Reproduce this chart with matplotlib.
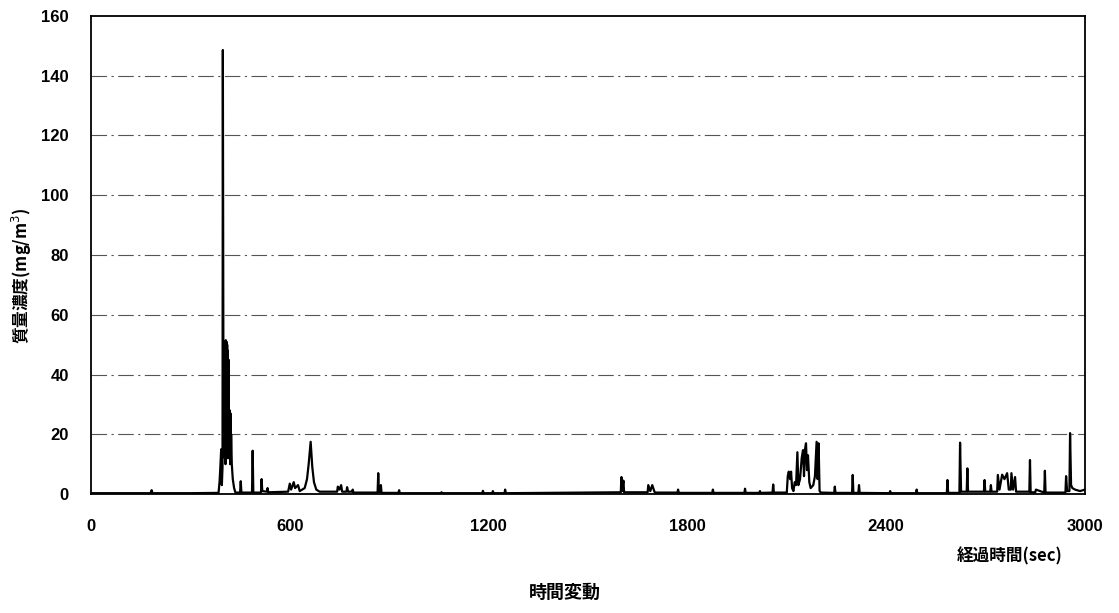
import matplotlib
matplotlib.use("Agg")
import matplotlib.pyplot as plt

plt.rcParams['font.family'] = ['Liberation Sans', 'Noto Sans CJK JP', 'DejaVu Sans']

# Elapsed time (sec) and mass concentration (mg/m3)
times = [0, 100, 180, 183, 186, 300, 385, 388, 390, 393, 395, 397, 398, 400, 402, 404, 405,
         406, 407, 408, 409, 410, 411, 412, 413, 414, 415, 416, 417, 418, 419, 420, 421, 422,
         423, 425, 428, 432, 436, 450, 452, 454, 486, 488, 490, 513, 515, 517,
         531, 533, 535, 595, 600, 604, 612, 616, 625, 630, 645, 652, 657, 663, 668, 673, 680,
         690, 743, 745, 750, 755, 758, 771, 773, 776, 788, 790, 792, 865, 867, 869, 873, 875,
         877, 928, 930, 932, 1056, 1058, 1060, 1181, 1183, 1185, 1211, 1213, 1215, 1248, 1250,
         1252, 1599, 1601, 1603, 1607, 1609, 1680, 1682, 1688, 1694, 1700, 1702, 1770, 1772,
         1774, 1875, 1877, 1879, 1972, 1974, 1976, 2017, 2019, 2021, 2057, 2059, 2061, 2100,
         2103, 2106, 2110, 2113, 2116, 2120, 2124, 2128, 2132, 2135, 2140, 2145, 2149, 2152,
         2155, 2158, 2161, 2164, 2168, 2172, 2180, 2185, 2190, 2193, 2196, 2199, 2203, 2243,
         2245, 2247, 2297, 2299, 2301, 2316, 2318, 2320, 2410, 2412, 2414, 2490, 2492, 2494,
         2583, 2585, 2587, 2621, 2623, 2626, 2643, 2645, 2647, 2695, 2697, 2699, 2714, 2716,
         2718, 2735, 2737, 2742, 2750, 2757, 2765, 2770, 2776, 2778, 2783, 2789, 2792, 2832,
         2834, 2836, 2850, 2852, 2877, 2879, 2881, 2941, 2943, 2946, 2953, 2955, 2958, 2962,
         2970, 2985, 3000]
conc = [0.3, 0.3, 0.3, 1.3, 0.3, 0.3, 0.4, 4, 8, 15, 3, 9, 148.6, 20, 38, 12, 40,
        10, 51.5, 14, 51, 18, 50, 15, 48, 12, 45, 16, 28, 12, 28, 10, 27, 11,
        20, 10, 5, 2, 0.5, 0.5, 4.3, 0.5, 0.5, 14.5, 0.5, 0.5, 5, 1,
        0.8, 2, 0.6, 0.8, 3.5, 1.5, 4, 2, 3, 1, 2, 5, 10, 17.5, 9, 4, 1.5,
        0.8, 0.8, 2.5, 1.5, 3, 0.8, 0.8, 2.3, 0.8, 0.8, 1.5, 0.5, 0.5, 7, 0.7, 0.7, 3,
        0.4, 0.4, 1.3, 0.3, 0.3, 0.6, 0.3, 0.3, 1.1, 0.3, 0.3, 1.0, 0.3, 0.3, 1.5,
        0.3, 0.6, 5.7, 1, 4.5, 0.6, 0.6, 3, 1, 3, 1, 0.5, 0.5, 1.5,
        0.4, 0.4, 1.5, 0.4, 0.4, 1.8, 0.4, 0.4, 1.0, 0.4, 0.5, 3.2, 0.5, 0.5,
        6, 7.5, 5, 7.5, 2, 1, 4, 3, 14, 3, 5, 12, 14.7, 6,
        15, 17, 8, 13, 4, 2, 3, 6, 17.5, 5, 17, 1, 0.5, 0.4,
        2.5, 0.4, 0.4, 6.4, 0.4, 0.4, 3, 0.4, 0.3, 1, 0.3, 0.3, 1.5, 0.3,
        0.3, 4.7, 0.4, 0.4, 17.2, 0.8, 0.8, 8.6, 0.8, 0.8, 4.7, 0.8, 0.8, 3,
        0.8, 0.8, 6.4, 1.5, 6.5, 5, 7, 1.5, 1.5, 7, 1.5, 5.7, 0.8, 0.8,
        11.4, 0.6, 0.6, 1.5, 0.5, 7.8, 0.5, 0.5, 6, 1, 1, 20.4, 3, 2,
        1.5, 1, 1.5]

xticks = [0, 600, 1200, 1800, 2400, 3000]
yticks = [0, 20, 40, 60, 80, 100, 120, 140, 160]

fig = plt.figure(figsize=(11.19, 6.13), dpi=100)
ax = fig.add_axes([0.0813, 0.194, 0.8883, 0.780])

for yv in yticks[1:-1]:
    ax.axhline(yv, color='#555555', lw=0.8, ls=(0, (14, 4, 2, 4)), zorder=1)

ax.plot(times, conc, color='black', lw=1.6, zorder=3)

ax.set_xlim(0, 3000)
ax.set_ylim(0, 160)
ax.set_xticks(xticks)
ax.set_yticks(yticks)
ax.tick_params(axis='both', length=0, labelsize=12)
ax.tick_params(axis='y', pad=16)
ax.tick_params(axis='x', pad=18)
for lab in ax.get_xticklabels() + ax.get_yticklabels():
    lab.set_fontweight('bold')
for sp in ax.spines.values():
    sp.set_linewidth(1.3)
    sp.set_color('black')

fig.text(0.020, 0.55, '質量濃度(mg/m$^3$)', rotation=90, ha='center', va='center',
         fontsize=12, fontweight='bold', family=['Noto Sans CJK JP', 'DejaVu Sans'])
fig.text(0.902, 0.093, '経過時間(sec)', ha='center', va='center',
         fontsize=12, fontweight='bold', family=['Noto Sans CJK JP', 'DejaVu Sans'])
fig.text(0.505, 0.034, '時間変動', ha='center', va='center',
         fontsize=13, fontweight='bold', family=['Noto Sans CJK JP', 'DejaVu Sans'])

fig.savefig('out.png', dpi=100)
